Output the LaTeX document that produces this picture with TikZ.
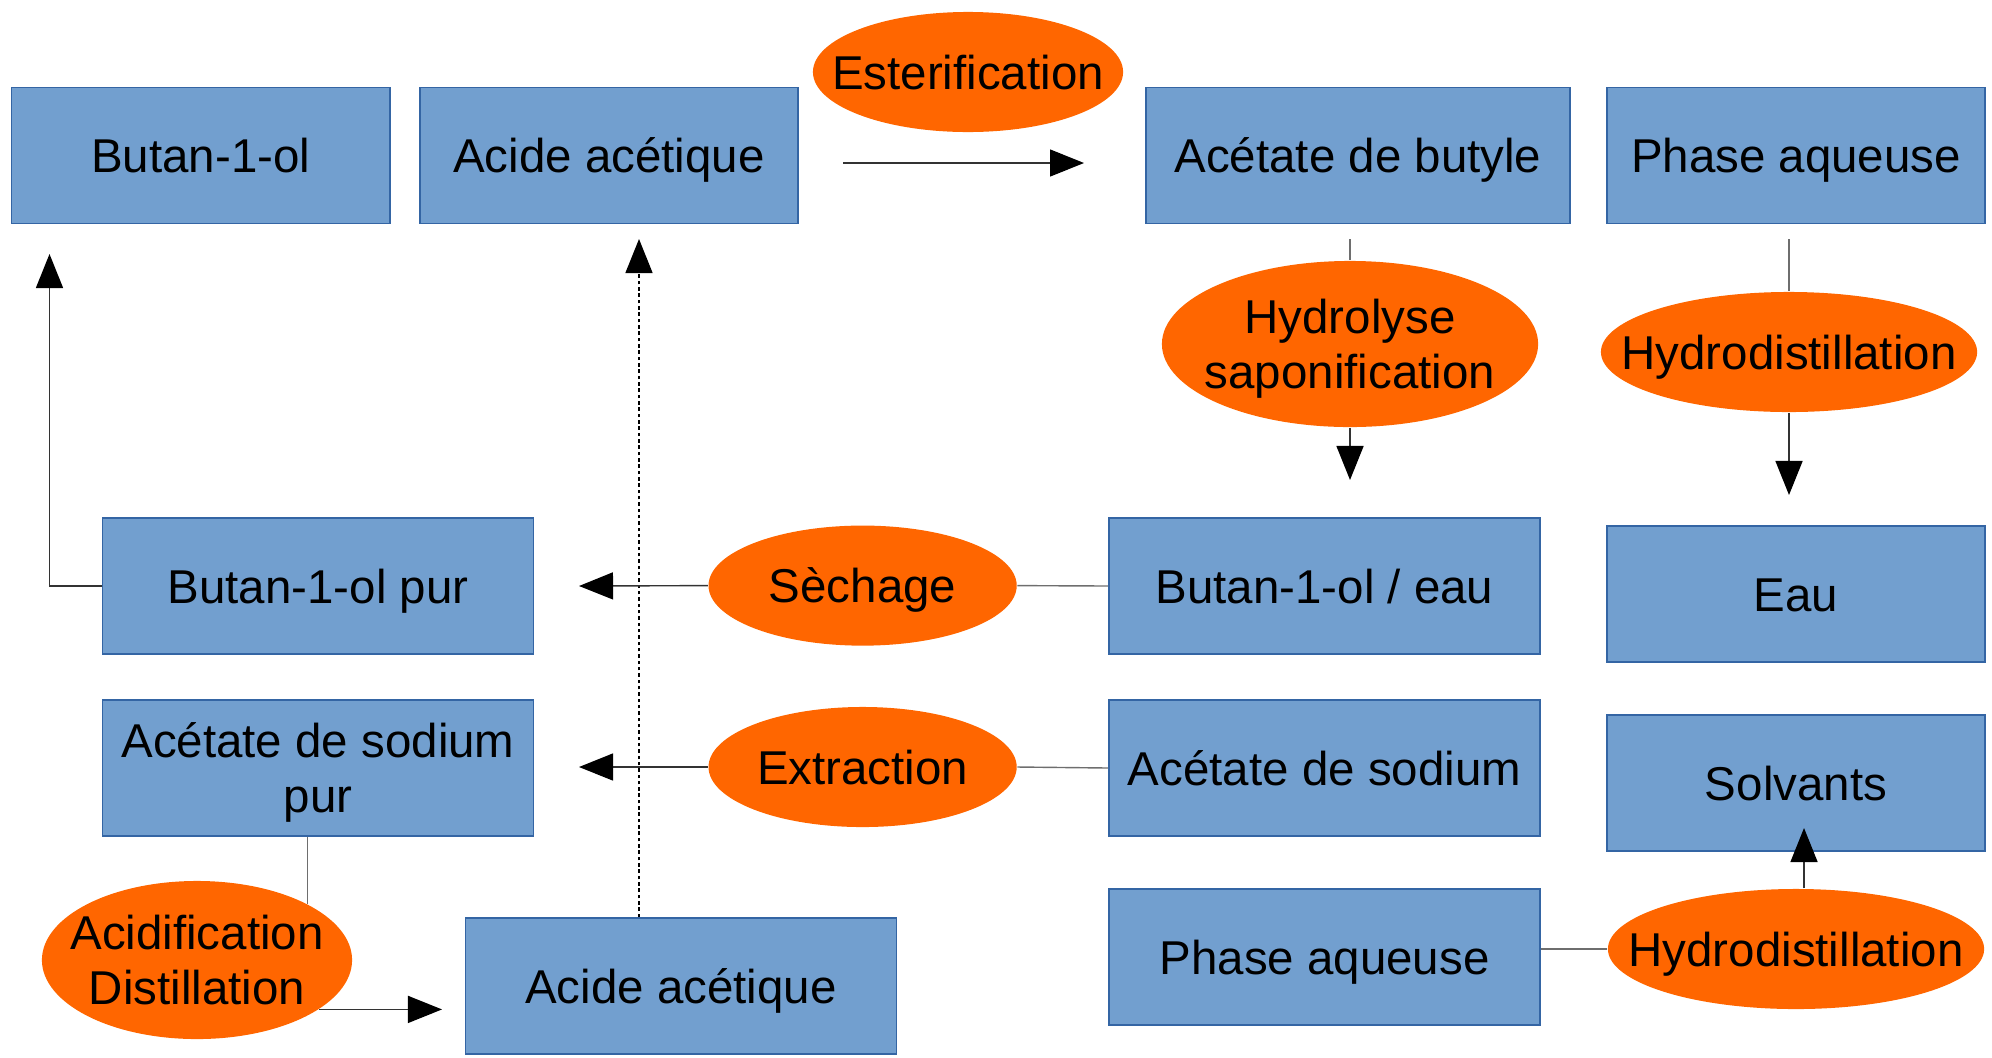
\documentclass[tikz,border=0pt]{standalone}
\usepackage{fontspec}
\setmainfont{Liberation Sans}
\usetikzlibrary{shapes.geometric,arrows.meta}
\definecolor{boxblue}{HTML}{729FCF}
\definecolor{boxline}{HTML}{3465A4}
\definecolor{procorange}{HTML}{FF6600}
\definecolor{wire}{HTML}{6E6E6E}

\begin{document}
\begin{tikzpicture}[x=0.01cm,y=-0.01cm]
    \tikzset{block/.style= {draw=boxline,
                            fill=boxblue,
                            rectangle,
                            align=center,
                            line width=0.4pt,
                            font=\fontsize{13.5}{15.5}\selectfont,
                            text height=12.4pt,
                            text depth=2.7pt,
                            minimum width=3.78cm,
                            minimum height=1.36cm},
             wide/.style=  {block,
                            minimum width=4.31cm},
             proc/.style=  {ellipse,
                            fill=procorange,
                            align=center,
                            inner xsep=-0.4cm,
                            inner ysep=0pt,
                            font=\fontsize{13.5}{15.5}\selectfont,
                            text height=12.4pt,
                            text depth=2.7pt,
                            minimum width=3.1cm,
                            minimum height=1.2cm},
             twoline/.style= {text height=25.2pt,
                              text depth=0pt},
             link/.style=  {draw=wire,
                            line width=0.4pt},
             arr/.style=   {draw=black!80,
                            line width=0.4pt,
                            -{Triangle[length=0.34cm,width=0.27cm,color=black]}},
            }
    \useasboundingbox (0,0) rectangle (1992,1057);
    \path
    (200.7,155.6) node[block](butanol) {Butan-1-ol}
    (609,155.6)   node[block](acide) {Acide acétique}
    (1358,155.6)  node[block, minimum width=4.24cm](butyle) {Acétate de butyle}
    (1796,155.6)  node[block](phase) {Phase aqueuse}
    (318,586)     node[wide](pur) {Butan-1-ol pur}
    (1324.5,586)  node[wide](eau) {Butan-1-ol / eau}
    (1796,594)    node[block](water) {Eau}
    (318,768)     node[wide, twoline](sodpur) {Acétate de sodium\\pur}
    (1324.5,768)  node[wide](sodium) {Acétate de sodium}
    (1796,783)    node[block](solv) {Solvants}
    (681,986)     node[wide](acideb) {Acide acétique}
    (1324.5,957)  node[wide](phaseb) {Phase aqueuse}
    (968,72)      node[proc](ester) {Esterification}
    (1350,344)    node[proc, twoline, minimum width=3.76cm, minimum height=1.66cm](hydro) {Hydrolyse\\saponification}
    (1789,352)    node[proc, minimum width=3.76cm](hdist) {Hydrodistillation}
    (862.6,585.6) node[proc, minimum width=3.08cm](sech) {Sèchage}
    (862.6,767)   node[proc, minimum width=3.08cm](extr) {Extraction}
    (197,960)     node[proc, twoline, minimum height=1.58cm](acidif) {Acidification\\Distillation}
    (1796,949)    node[proc, minimum width=3.76cm](hdistb) {Hydrodistillation}
    (843,163)     coordinate (esta)
    (1084,163)    coordinate (estb)
    (49.5,254)    coordinate (uptip)
    (639,239)     coordinate (dashtip)
    (579,586)     coordinate (sechtip)
    (579,767)     coordinate (extrtip)
    (1350,239)    coordinate (hydtop)
    (1350,480)    coordinate (hydtip)
    (1789,239)    coordinate (distop)
    (1789,495)    coordinate (distip)
    (442,1010)    coordinate (acitip)
    (1804,828)    coordinate (solvtip)
    ;
    \draw[arr]  (esta) -- (estb);
    \draw[arr]  (pur.west) -| (uptip);
    \draw[arr, draw=black, dash pattern=on 1pt off 0.8pt] (acideb.north -| dashtip) -- (dashtip);
    \draw[link] (eau.west) -- (sech.east);
    \draw[arr]  (sech.west) -- (sechtip);
    \draw[link] (sodium.west) -- (extr.east);
    \draw[arr]  (extr.west) -- (extrtip);
    \draw[link] (hydtop) -- (hydro.north);
    \draw[arr]  (hydro.south) -- (hydtip);
    \draw[link] (distop) -- (hdist.north);
    \draw[arr]  (hdist.south) -- (distip);
    \draw[link] (sodpur.south -| acidif.27) -- (acidif.27);
    \draw[arr]  (acidif.-22) -- (acidif.-22 -| acitip);
    \draw[link] (hdistb.west -| phaseb.east) -- (hdistb.west);
    \draw[arr]  (solvtip |- hdistb.north) -- (solvtip);
\end{tikzpicture}
\end{document}
